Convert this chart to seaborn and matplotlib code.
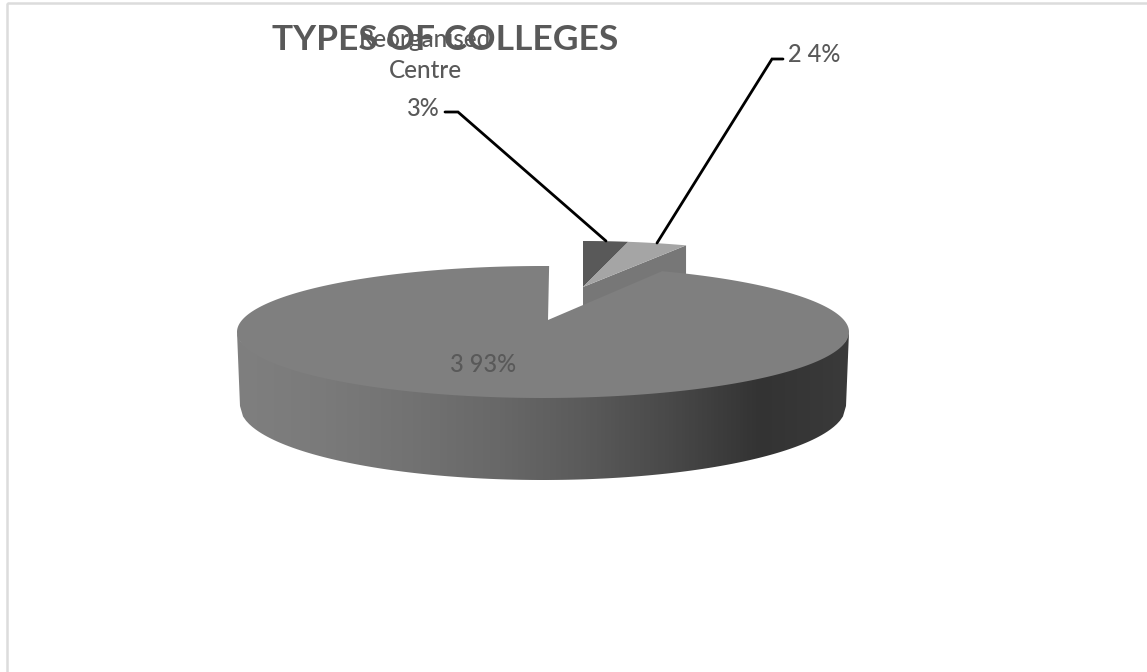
import numpy as np
import matplotlib
matplotlib.use("Agg")
import matplotlib.pyplot as plt
from matplotlib.patches import Rectangle, Polygon
import seaborn as sns

# Chart content
title = "TYPES OF COLLEGES"
category_label = "Reorganised\nCentre"
shares = [3, 4, 93]
value_labels = ["3%", "2 4%", "3 93%"]

sns.set_theme(style="white")
plt.rcParams["font.family"] = ["Lato", "DejaVu Sans"]

TEXT = "#595959"
TOP_COLOURS = ["#595959", "#a5a5a5", "#7f7f7f"]
WALL_BACK = "#777777"
# Shading of the rim from its left end to its right end
rim_palette = sns.blend_palette(
    ["#7f7f7f", "#7a7a7a", "#727272", "#686868", "#5a5a5a", "#484848", "#333333", "#3a3a3a"], 300
)

fig = plt.figure(figsize=(11.47, 6.72), dpi=100)
ax = fig.add_axes([0, 0, 1, 1])
ax.axis("off")

ax.add_patch(Rectangle((6.5, 2.5), 1150, 700, fill=False, ec="#dcdcdc", lw=1.8))

# Cumulative shares become clockwise angles measured from twelve o'clock
edges = np.radians(np.cumsum([0] + shares) * 3.6)


def rim(cx, cy, rx, ry, start, stop, n=200):
    t = np.linspace(start, stop, n)
    return np.column_stack([cx + rx * np.sin(t), cy - ry * np.cos(t)])


# Exploded pair of small slices, at the back
small_apex = (583, 287)
small_rx, small_ry = 242, 46
wall_depth = 60
outer = rim(*small_apex, small_rx, small_ry, edges[2], edges[2], 1)[0]
ax.add_patch(Polygon([small_apex, outer, outer + [0, wall_depth],
                      (small_apex[0], small_apex[1] + wall_depth)],
                     fc=WALL_BACK, ec="none", zorder=2))
for i in range(2):
    arc = rim(*small_apex, small_rx, small_ry, edges[i], edges[i + 1], 40)
    ax.add_patch(Polygon(np.vstack([small_apex, arc]), fc=TOP_COLOURS[i], ec="none", zorder=3))

# Large slice: a horizontal gradient clipped to the rim outline.
# The upper edge of the outline runs under the top face so no seam shows.
cx, cy, rx, ry = 543, 332, 306, 66
bx, by, brx, bry = 543, 406, 303, 74
u = np.linspace(-1, 1, 200)
top_edge = np.column_stack([cx + rx * u, cy + (ry - 4) * np.sqrt(1 - u ** 2)])
bottom_edge = np.column_stack([bx + brx * u, by + bry * np.sqrt(1 - u ** 2)])
outline = Polygon(np.vstack([top_edge, bottom_edge[::-1]]), fc="none", ec="none", zorder=4)
ax.add_patch(outline)
gradient = np.array(rim_palette)[np.newaxis, :, :]
wall_image = ax.imshow(gradient, extent=(cx - rx, cx + rx, by + bry, cy), aspect="auto",
                       interpolation="bilinear", zorder=4)
wall_image.set_clip_path(outline)

# Foreshortening widens the large slice's top face slightly past its nominal sweep
main_apex = (548, 320)
arc = rim(cx, cy, rx, ry, edges[2] - 0.04, edges[3] + 0.02, 400)
ax.add_patch(Polygon(np.vstack([main_apex, arc]), fc=TOP_COLOURS[2], ec="none", zorder=5))

ax.set_xlim(0, 1147)
ax.set_ylim(672, 0)

# Leader lines
ax.plot([445, 458, 606], [112, 112, 241], color="black", lw=2, zorder=6, solid_joinstyle="miter")
ax.plot([783, 772, 657], [59, 59, 243], color="black", lw=2, zorder=6, solid_joinstyle="miter")

# Text
ax.text(445, 40, title, fontsize=25.5, fontweight="bold", color=TEXT, ha="center", va="center", zorder=7)
ax.text(425, 55, category_label, fontsize=17.5, fontweight="medium", color=TEXT, ha="center", va="center",
        linespacing=1.42, zorder=8)
ax.text(423, 108, value_labels[0], fontsize=17, fontweight="medium", color=TEXT, ha="center", va="center", zorder=8)
ax.text(814, 54, value_labels[1], fontsize=17, fontweight="medium", color=TEXT, ha="center", va="center", zorder=8)
ax.text(483, 364, value_labels[2], fontsize=17, fontweight="medium", color=TEXT, ha="center", va="center", zorder=8)

fig.savefig("out.png", dpi=100)
